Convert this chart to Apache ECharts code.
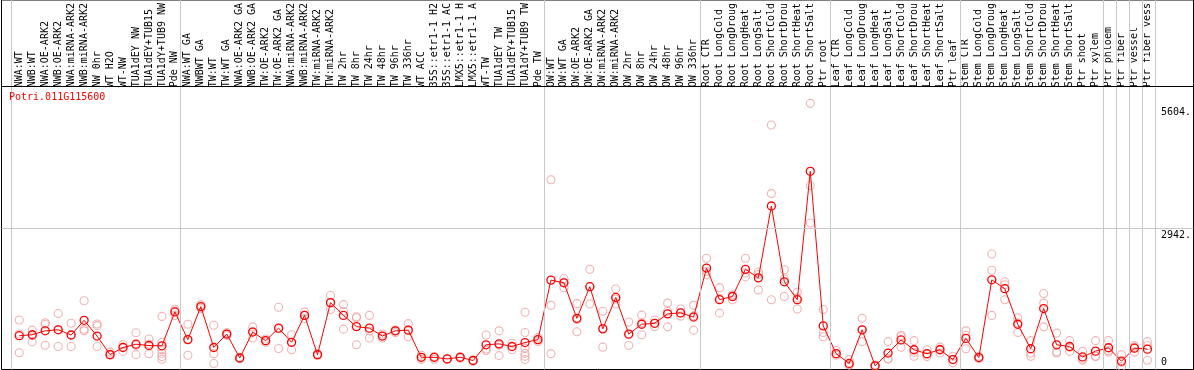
<!DOCTYPE html>
<html><head><meta charset="utf-8">
<script src="https://cdn.jsdelivr.net/npm/echarts@6/dist/echarts.min.js"></script>
<style>html,body{margin:0;padding:0;background:#fff}#c{width:1194px;height:370px}</style>
</head><body><div id="c"></div>
<script>
// ---------------- data ----------------
const geneId = 'Potri.011G115600';
const categories = [
'NWA:WT','NWB:WT','NWA:OE-ARK2','NWB:OE-ARK2','NWA:miRNA-ARK2','NWB:miRNA-ARK2','NW 0hr','WT H2O','WT-NW','TUA1dEY NW','TUA1dEY+TUB15','TUA1dY+TUB9 NW','Pde NW',
'NWA:WT GA','NWBWT GA','TW:WT','TW:WT GA','NWA:OE-ARK2 GA','NWB:OE-ARK2 GA','TW:OE-ARK2','TW:OE-ARK2 GA','NWA:miRNA-ARK2','NWB:miRNA-ARK2','TW:miRNA-ARK2','TW:miRNA-ARK2','TW 2hr','TW 8hr','TW 24hr','TW 48hr','TW 96hr','TW 336hr','WT ACC','35S::etr1-1 H2','35S::etr1-1 AC','LMX5::etr1-1 H','LMX5::etr1-1 A','WT-TW','TUA1dEY TW','TUA1dEY+TUB15','TUA1dY+TUB9 TW','Pde TW',
'OW:WT','OW:WT GA','OW:OE-ARK2','OW:OE-ARK2 GA','OW:miRNA-ARK2','OW:miRNA-ARK2','OW 2hr','OW 8hr','OW 24hr','OW 48hr','OW 96hr','OW 336hr',
'Root CTR','Root LongCold','Root LongDroug','Root LongHeat','Root LongSalt','Root ShortCold','Root ShortDrou','Root ShortHeat','Root ShortSalt','Ptr root',
'Leaf CTR','Leaf LongCold','Leaf LongDroug','Leaf LongHeat','Leaf LongSalt','Leaf ShortCold','Leaf ShortDrou','Leaf ShortHeat','Leaf ShortSalt','Ptr leaf',
'Stem CTR','Stem LongCold','Stem LongDroug','Stem LongHeat','Stem LongSalt','Stem ShortCold','Stem ShortDrou','Stem ShortHeat','Stem ShortSalt','Ptr shoot','Ptr xylem',
'Ptr phloem','Ptr fiber','Ptr vessel','Ptr fiber vess'
];
const meanValues = [
669,690,775,797,684,1003,662,258,413,484,456,449,1186,
584,1301,413,705,185,748,562,833,526,1110,258,1387,1110,867,833,662,775,790,200,200,164,200,130,471,492,435,520,584,
1877,1819,1046,1734,818,1500,705,918,939,1144,1165,1074,
2139,1451,1521,2111,1926,3487,1840,1451,4241,882,
279,66,797,15,292,577,364,279,364,151,
611,194,1883,1691,918,386,1259,471,435,207,334,
407,115,398,377
];
const replicateValues = [
[1010,705,300],[790,675,535],[952,918,462],[1152,804,435],[939,678,435],[1429,810,775],[925,888,435],[313,270,243],[477,420,328],[733,460,258],[599,490,279],[1088,526,364,285,215,158],[1244,1204,1110],
[918,590,243],[1344,1301,1258],[897,279,66],[735,705,675],[200,185,170],[861,760,620],[599,562,526],[1287,820,392],[690,526,364],[1186,1110,1040],[279,258,240],[1542,1387,1238],[1344,1201,812],[1080,1059,471],[1110,770,620],[705,662,620],[790,775,739],[931,790,648],[243,200,151],[215,200,158],[170,164,155],[215,200,180],[140,130,115],[684,380,349],[775,465,236],[505,435,364],[1180,739,400,285,222,151],[633,584,541],
[4056,1329,279],[1911,1830,1713],[1365,1020,754],[2111,1734,1357],[1201,830,420],[1685,1460,1357],[967,690,456],[1116,950,690],[1010,939,867],[1378,1201,861],[1250,1165,1095],[1329,1100,790],
[2352,2070,1996],[1713,1480,1159],[1557,1521,1451],[2352,2030,1947],[2053,2000,1664],[5248,3757,1451],[2102,1900,1521],[1612,1490,1250],[5717,3934,3118],[1238,739,648],
[349,279,243],[151,40,30],[1046,800,541],[30,15,0],[541,173,160],[680,648,420],[562,310,222],[364,260,215],[420,380,292],[222,151,79],
[775,680,386],[222,194,165],[2443,2090,1110],[1840,1776,1451],[1059,950,739],[562,292,222],[1585,1378,861],[726,322,292],[562,420,328],[328,160,136],[562,222,218],
[562,345,313],[258,90,0],[456,420,313],[541,456,136]
];
// index of the last category of each group (-1 = before the first)
const groupLastIndex = [-1, 12, 40, 52, 62, 72, 83, 84, 85, 86, 87];
const yTickValues = [0, 2942, 5604];
const yTickLabels = ['0', '2942.', '5604.'];
const yGridValues = [2942];

// ---------------- layout ----------------
const W = 1194, H = 370;
const PLOT_LEFT = 12.8, BAND = 13, HEADER_Y = 85, ZERO_Y = 366.5, REF_PX = 228.5;
const UPP = yGridValues[0] / (ZERO_Y - REF_PX);       // value units per pixel
const FRAME_L = 1.5, FRAME_R = W - 0.5, FRAME_T = -0.5, FRAME_B = H - 0.5;
const pxToCat = x => (x - PLOT_LEFT) / BAND - 0.5;
const pxToVal = y => (ZERO_Y - y) * UPP;
const FONT = 'DejaVu Sans Mono';
const GREY = '#c8c8c8';

const repData = [];
replicateValues.forEach((arr, i) => arr.forEach(v => repData.push([i, v])));

const markData = [];
groupLastIndex.forEach(L => markData.push({ xAxis: L + 0.4 }));
yGridValues.forEach(v => markData.push({ yAxis: v }));
markData.push({ yAxis: pxToVal(HEADER_Y + 0.5), lineStyle: { color: '#000' } });

const labelMap = {};
yTickValues.forEach((v, i) => labelMap[v] = yTickLabels[i]);

const chart = echarts.init(document.getElementById('c'), null, { renderer: 'canvas', devicePixelRatio: 1 });
chart.setOption({
  animation: false,
  backgroundColor: '#fff',
  title: {
    text: geneId, left: 9, top: 92, padding: 0,
    textStyle: { color: '#ff0000', fontSize: 10, fontWeight: 'normal', fontFamily: FONT }
  },
  grid: [
    { left: FRAME_L, top: FRAME_T, width: FRAME_R - FRAME_L, height: FRAME_B - FRAME_T,
      show: true, borderColor: '#000', borderWidth: 1, backgroundColor: 'transparent' },
    { left: PLOT_LEFT, top: HEADER_Y, width: BAND * categories.length, height: ZERO_Y - HEADER_Y }
  ],
  xAxis: [
    { gridIndex: 1, type: 'category', data: categories, position: 'top', boundaryGap: true,
      axisLine: { show: false }, axisTick: { show: false }, splitLine: { show: false },
      axisLabel: { interval: 0, rotate: 90, margin: 3, fontSize: 10, fontFamily: FONT, color: '#000' } },
    { gridIndex: 0, type: 'value', min: pxToCat(FRAME_L), max: pxToCat(FRAME_R), show: false }
  ],
  yAxis: [
    { gridIndex: 1, type: 'value', min: 0, max: pxToVal(HEADER_Y), position: 'right',
      axisLine: { show: false }, axisTick: { show: false }, splitLine: { show: false },
      axisLabel: {
        margin: 7, customValues: yTickValues, showMinLabel: true, showMaxLabel: true,
        formatter: v => (v === 0 ? '{b|' : '{t|') + labelMap[v] + '}',
        rich: {
          t: { fontSize: 10, fontFamily: FONT, color: '#000', padding: [8, 0, 0, 0] },
          b: { fontSize: 10, fontFamily: FONT, color: '#000', padding: [0, 0, 8, 0] }
        }
      } },
    { gridIndex: 0, type: 'value', min: pxToVal(FRAME_B), max: pxToVal(FRAME_T), show: false }
  ],
  series: [
    { type: 'line', xAxisIndex: 1, yAxisIndex: 1, data: [], silent: true, z: 1,
      markLine: { silent: true, symbol: 'none', animation: false, label: { show: false },
        lineStyle: { color: GREY, width: 1, type: 'solid' }, emphasis: { disabled: true },
        data: markData } },
    { type: 'scatter', xAxisIndex: 0, yAxisIndex: 0, data: repData, z: 3, clip: false, silent: true,
      symbol: 'circle', symbolSize: 8,
      itemStyle: { color: 'rgba(255,255,255,0)', borderColor: '#eea0a0', borderWidth: 1.1 } },
    { type: 'line', xAxisIndex: 0, yAxisIndex: 0, data: meanValues, z: 4, clip: false, silent: true,
      symbol: 'circle', symbolSize: 8, showAllSymbol: true,
      lineStyle: { color: '#ff0000', width: 1 },
      itemStyle: { color: 'rgba(255,255,255,0)', borderColor: '#ff0000', borderWidth: 1.3 } }
  ]
});
</script>
</body></html>
